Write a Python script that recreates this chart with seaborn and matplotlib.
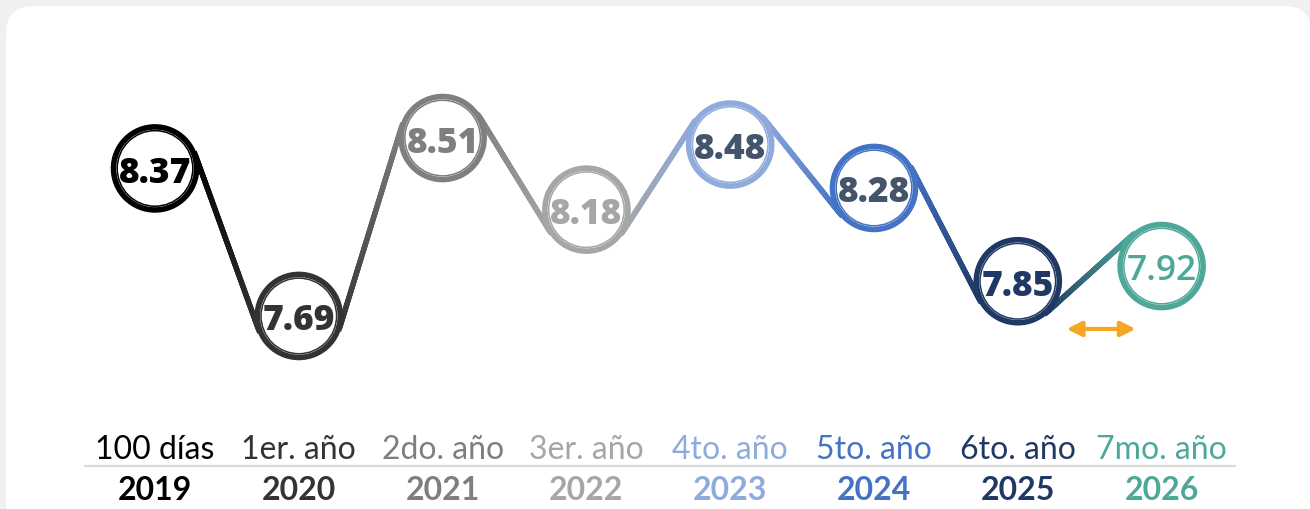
import numpy as np
import pandas as pd
import matplotlib
matplotlib.use("Agg")
import matplotlib.pyplot as plt
import matplotlib.transforms as mtransforms
from matplotlib.patches import FancyBboxPatch
from matplotlib.collections import LineCollection
from matplotlib.colors import to_rgb
import seaborn as sns

# ---- data ----
periods = ["100 días", "1er. año", "2do. año", "3er. año", "4to. año", "5to. año", "6to. año", "7mo. año"]
years = ["2019", "2020", "2021", "2022", "2023", "2024", "2025", "2026"]
values = [8.37, 7.69, 8.51, 8.18, 8.48, 8.28, 7.85, 7.92]
ring_colors = ["#000000", "#333333", "#7f7f7f", "#a6a6a6", "#8faadc", "#4472c4", "#1f3864", "#4ea89a"]
value_text_colors = ["#000000", "#333333", "#7f7f7f", "#a6a6a6", "#44546a", "#44546a", "#1f3864", "#4ea89a"]

df = pd.DataFrame({"pos": np.arange(len(values)), "value": values, "year": years})

sns.set_theme(style="white")
plt.rcParams["font.family"] = ["Lato", "DejaVu Sans"]

W, H, DPI = 1310, 510, 100
fig = plt.figure(figsize=(W / DPI, H / DPI), dpi=DPI)
fig.patch.set_facecolor("#f0f0f0")

# white rounded card
card = FancyBboxPatch((6, -40), 1306, 543, boxstyle="round,pad=0,rounding_size=28",
                      transform=mtransforms.IdentityTransform(), facecolor="white",
                      edgecolor="none", zorder=-10)
fig.patches.append(card)

ax = fig.add_axes([0, 0, 1, 1])
ax.set_facecolor("none")
ax.set_xlim(-1.078, 8.032)
ax.set_ylim(6.800, 9.151)
ax.axis("off")

# ---- gradient connecting lines: internal tangents between neighbouring circles ----
R_px = 42.5
inv = ax.transData.inverted()
for i in range(len(values) - 1):
    c1 = ax.transData.transform((i, values[i]))
    c2 = ax.transData.transform((i + 1, values[i + 1]))
    dvec = c2 - c1
    dist = np.hypot(*dvec)
    phi = np.arctan2(dvec[1], dvec[0])
    alpha = np.arcsin(min(1.0, 2 * R_px / dist))
    theta = phi + np.sign(phi) * alpha
    direc = np.array([np.cos(theta), np.sin(theta)])
    perp = np.array([-direc[1], direc[0]])
    mid = (c1 + c2) / 2
    if np.dot(mid - c1, perp) < 0:
        perp = -perp
    t1 = c1 + R_px * perp
    t2 = c2 - R_px * perp
    d0, d1 = inv.transform(t1), inv.transform(t2)
    n = 80
    t = np.linspace(0, 1, n + 1)
    xs = d0[0] + (d1[0] - d0[0]) * t
    ys = d0[1] + (d1[1] - d0[1]) * t
    pts = np.column_stack([xs, ys]).reshape(-1, 1, 2)
    segs = np.concatenate([pts[:-1], pts[1:]], axis=1)
    a0, a1 = np.array(to_rgb(ring_colors[i])), np.array(to_rgb(ring_colors[i + 1]))
    tm = (t[:-1] + t[1:]) / 2
    cols = a0[None, :] * (1 - tm[:, None]) + a1[None, :] * tm[:, None]
    lc = LineCollection(segs, colors=cols, linewidths=3.8, capstyle="projecting", zorder=1)
    ax.add_collection(lc)

# ---- circles: outer thick ring + inner thin ring ----
palette = dict(zip(years, ring_colors))
for s, lw in [(3575, 4.0), (2960, 1.1)]:
    sns.scatterplot(data=df, x="pos", y="value", hue="year", palette=palette, s=s,
                    marker="o", legend=False, ax=ax, zorder=3, linewidth=lw)
    coll = ax.collections[-1]
    fc = coll.get_facecolors()
    coll.set_edgecolors(fc)
    coll.set_facecolors("white")
    coll.set_linewidths(lw)

# value labels
for i, v in enumerate(values):
    ax.text(i, v, f"{v:.2f}", ha="center", va="center_baseline", fontsize=25.5,
            fontweight="heavy" if i < len(values) - 1 else "semibold",
            family=["Open Sans", "DejaVu Sans"], color=value_text_colors[i], zorder=5)

# ---- bottom labels ----
y_period = 7.075
y_year = 6.888
y_rule = 6.9985
for i in range(len(values)):
    ax.text(i, y_period, periods[i], ha="center", va="center", fontsize=23,
            color=ring_colors[i], zorder=5)
    ax.text(i, y_year, years[i], ha="center", va="center", fontsize=23,
            fontweight="bold", color=ring_colors[i], zorder=5)
ax.plot([-0.49, 7.51], [y_rule, y_rule], color="#d9d9d9", lw=1.6, zorder=2)

# orange double arrow between the last two points
ax.annotate("", xy=(6.82, 7.630), xytext=(6.34, 7.630),
            arrowprops=dict(arrowstyle="<|-|>", color="#f5a623", lw=3,
                            mutation_scale=22, shrinkA=0, shrinkB=0), zorder=4)

fig.savefig("out.png", dpi=DPI, facecolor=fig.get_facecolor())
